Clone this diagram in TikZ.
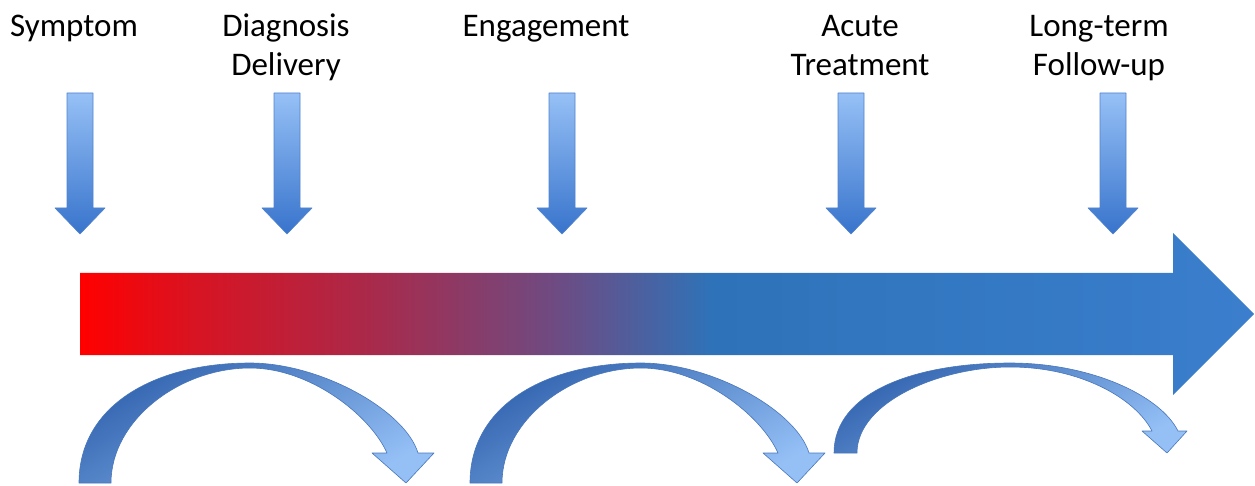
\documentclass[tikz,border=0pt]{standalone}
\usepackage{fontspec}
\setmainfont{Carlito}

\definecolor{tlred}{RGB}{255,0,0}
\definecolor{tlrose}{RGB}{215,20,35}
\definecolor{tlwine}{RGB}{172,40,72}
\definecolor{tlplum}{RGB}{108,76,132}
\definecolor{tlsteel}{RGB}{46,115,185}
\definecolor{tlblue}{RGB}{58,126,205}
\definecolor{dntop}{RGB}{150,192,246}
\definecolor{dnbot}{RGB}{56,116,204}
\definecolor{dnedge}{RGB}{80,130,204}
\definecolor{bdtop}{RGB}{50,100,175}
\definecolor{bdbot}{RGB}{148,192,246}
\definecolor{bdedge}{RGB}{72,118,186}

\pgfdeclarehorizontalshading{timeline}{100bp}{color(0bp)=(tlred); color(25bp)=(tlred); color(30bp)=(tlrose); color(37bp)=(tlwine); color(45.5bp)=(tlplum); color(52bp)=(tlsteel); color(75bp)=(tlblue); color(100bp)=(tlblue)}

\begin{document}
\begin{tikzpicture}[line cap=round,line join=round,x=1pt,y=-1pt,
  downarrow/.style={draw=dnedge,line width=0.6pt,top color=dntop,bottom color=dnbot},
  bendarrow/.style={draw=bdedge,line width=0.6pt,top color=bdtop,bottom color=bdbot,shading angle=30},
  stage/.style={font=\fontsize{33}{39}\selectfont,align=center,anchor=base,inner sep=0pt}]
\useasboundingbox (0,0) rectangle (1255,486);
% stage labels (base = last line)
\node[stage] (symptom) at (74,37) {Symptom};
\node[stage] (diagnosis) at (286,76) {Diagnosis\\Delivery};
\node[stage] (engagement) at (546,37) {Engagement};
\node[stage] (acute) at (860,76) {Acute\\Treatment};
\node[stage] (longterm) at (1099,76) {Long-term\\Follow-up};
% arrows pointing down onto the timeline
\foreach \x in {80,287,562,851,1113}
  \draw[downarrow] (\x-13,93) -- (\x+13,93) -- (\x+13,208) -- (\x+25,208) -- (\x,234) -- (\x-25,208) -- (\x-13,208) -- cycle;
% timeline
\shade[shading=timeline] (80,273) -- (1173,273) -- (1173,233) -- (1254,314) -- (1173,395) -- (1173,355) -- (80,355) -- cycle;
% bends under the timeline
\foreach \s in {0,391}
  \draw[bendarrow,xshift=\s] (79,483) .. controls (79,405) and (155,363) .. (250,363)
    .. controls (320,363) and (405,410) .. (418,453) -- (434,453) -- (406,483) -- (372,453) -- (387,453)
    .. controls (370,415) and (310,368) .. (250,368)
    .. controls (180,368) and (111,420) .. (111,483) -- cycle;
\draw[bendarrow] (834,453) .. controls (834,392) and (915,363) .. (1010,363)
  .. controls (1090,363) and (1160,395) .. (1178,431) -- (1187,431) -- (1167,453) -- (1142,431) -- (1152,431)
  .. controls (1135,398) and (1080,367) .. (1010,367)
  .. controls (940,367) and (857,402) .. (857,453) -- cycle;
\end{tikzpicture}
\end{document}
